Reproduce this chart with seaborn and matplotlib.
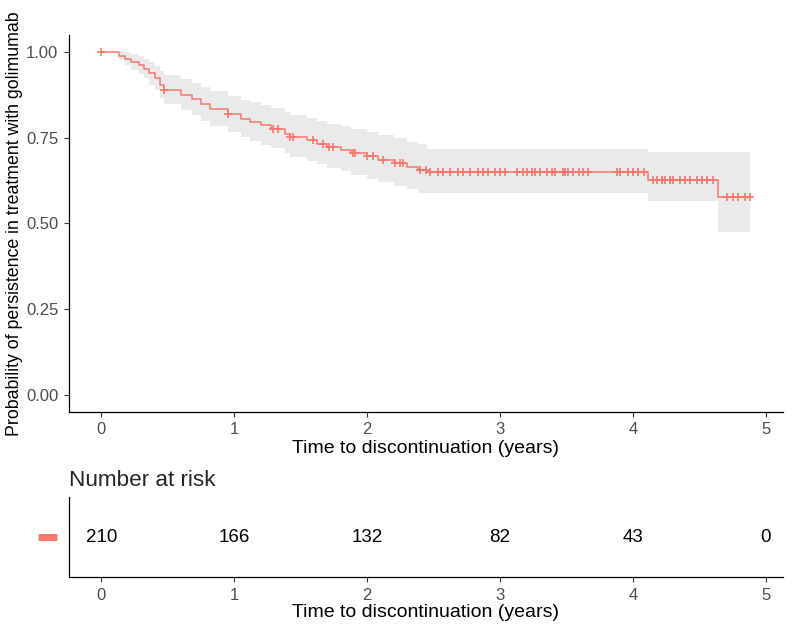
import numpy as np
import pandas as pd
import matplotlib
matplotlib.use("Agg")
import matplotlib.pyplot as plt
import seaborn as sns

# Kaplan-Meier steps
step_time = [0.00, 0.13, 0.18, 0.22, 0.28, 0.32, 0.36, 0.40, 0.44, 0.47, 0.60, 0.68, 0.75, 0.82,
             0.95, 1.05, 1.12, 1.20, 1.28, 1.38, 1.42, 1.55, 1.62, 1.70, 1.80, 1.88, 2.00, 2.08,
             2.20, 2.30, 2.38, 2.45, 4.11, 4.64, 4.88]
surv = [1.000, 0.990, 0.981, 0.971, 0.962, 0.952, 0.938, 0.924, 0.905, 0.890, 0.876, 0.862, 0.848, 0.833,
        0.819, 0.805, 0.795, 0.786, 0.776, 0.762, 0.753, 0.743, 0.733, 0.724, 0.715, 0.706, 0.696, 0.686,
        0.676, 0.666, 0.657, 0.651, 0.628, 0.576, 0.576]
ci_lower = [1.000, 0.976, 0.962, 0.948, 0.936, 0.923, 0.905, 0.888, 0.866, 0.848, 0.831, 0.815, 0.799, 0.783,
            0.767, 0.751, 0.740, 0.730, 0.719, 0.704, 0.694, 0.683, 0.672, 0.662, 0.652, 0.642, 0.631, 0.620,
            0.610, 0.599, 0.590, 0.590, 0.564, 0.474, 0.474]
ci_upper = [1.000, 1.000, 1.000, 0.994, 0.988, 0.981, 0.971, 0.960, 0.946, 0.934, 0.922, 0.911, 0.899, 0.886,
            0.873, 0.861, 0.853, 0.845, 0.837, 0.825, 0.817, 0.808, 0.800, 0.791, 0.783, 0.775, 0.766, 0.757,
            0.748, 0.739, 0.731, 0.718, 0.709, 0.709, 0.709]

# censored observations (years)
censor_time = [0.00, 0.47, 0.95, 1.29, 1.33, 1.42, 1.44, 1.59, 1.67, 1.71, 1.74, 1.89, 1.91, 2.00, 2.04,
               2.12, 2.21, 2.25, 2.27, 2.40, 2.44, 2.47, 2.53, 2.57, 2.62, 2.68, 2.72, 2.77, 2.83, 2.87,
               2.91, 2.96, 3.00, 3.04, 3.13, 3.17, 3.20, 3.24, 3.26, 3.30, 3.35, 3.39, 3.41, 3.47, 3.49,
               3.51, 3.55, 3.59, 3.62, 3.66, 3.88, 3.90, 3.96, 4.00, 4.04, 4.08, 4.15, 4.18, 4.22, 4.24,
               4.28, 4.30, 4.35, 4.39, 4.43, 4.48, 4.52, 4.56, 4.60, 4.71, 4.75, 4.79, 4.84, 4.88]

risk_time = [0, 1, 2, 3, 4, 5]
n_at_risk = [210, 166, 132, 82, 43, 0]

red = "#F8766D"
xlim = (-0.245, 5.13)

sns.set_theme(style="ticks")
plt.rcParams["font.family"] = ["Liberation Sans", "DejaVu Sans"]

km = pd.DataFrame({"time": step_time, "surv": surv, "lo": ci_lower, "hi": ci_upper})
idx = np.searchsorted(km["time"].values, censor_time, side="right") - 1
cens = pd.DataFrame({"time": censor_time, "surv": km["surv"].values[idx]})

fig = plt.figure(figsize=(8, 6.24), dpi=100)
ax = fig.add_axes([0.086, 0.340, 0.893, 0.604])
tab = fig.add_axes([0.086, 0.075, 0.893, 0.128])

ax.fill_between(km["time"], km["lo"], km["hi"], step="post", color="#e8e8e8", alpha=0.9, lw=0)
sns.lineplot(data=km, x="time", y="surv", drawstyle="steps-post", color=red, lw=1.1, ax=ax,
             estimator=None, sort=False)
sns.scatterplot(data=cens, x="time", y="surv", marker="+", s=40, color=red, linewidth=1.2, ax=ax)

ax.set_xlim(*xlim)
ax.set_ylim(-0.05, 1.05)
ax.set_yticks([0, 0.25, 0.5, 0.75, 1.0])
ax.set_yticklabels(["0.00", "0.25", "0.50", "0.75", "1.00"])
ax.set_xticks(risk_time)
ax.set_xlabel("Time to discontinuation (years)", fontsize=14, color="black", labelpad=2)
ax.set_ylabel("Probability of persistence in treatment with golimumab", fontsize=12.8, color="black",
              labelpad=2)

# risk table
tab.set_xlim(*xlim)
tab.set_ylim(0, 1)
for t, n in zip(risk_time, n_at_risk):
    tab.text(t, 0.5, str(n), ha="center", va="center", fontsize=13.5, color="black")
tab.set_yticks([])
tab.set_xticks(risk_time)
tab.plot([-0.043, -0.017], [0.5, 0.5], transform=tab.transAxes, clip_on=False, color=red, lw=5,
         solid_capstyle="butt")
tab.set_xlabel("Time to discontinuation (years)", fontsize=14, color="black", labelpad=1)
tab.set_title("Number at risk", loc="left", fontsize=16.2, x=0.0, pad=8)

for a in (ax, tab):
    sns.despine(ax=a)
    for s in ("left", "bottom"):
        a.spines[s].set_color("black")
        a.spines[s].set_linewidth(0.9)
    a.tick_params(axis="both", length=3.5, width=0.8, color="#333333", labelsize=12,
                  labelcolor="#4d4d4d", pad=4)
    a.grid(False)

fig.savefig("out.png", dpi=100)
